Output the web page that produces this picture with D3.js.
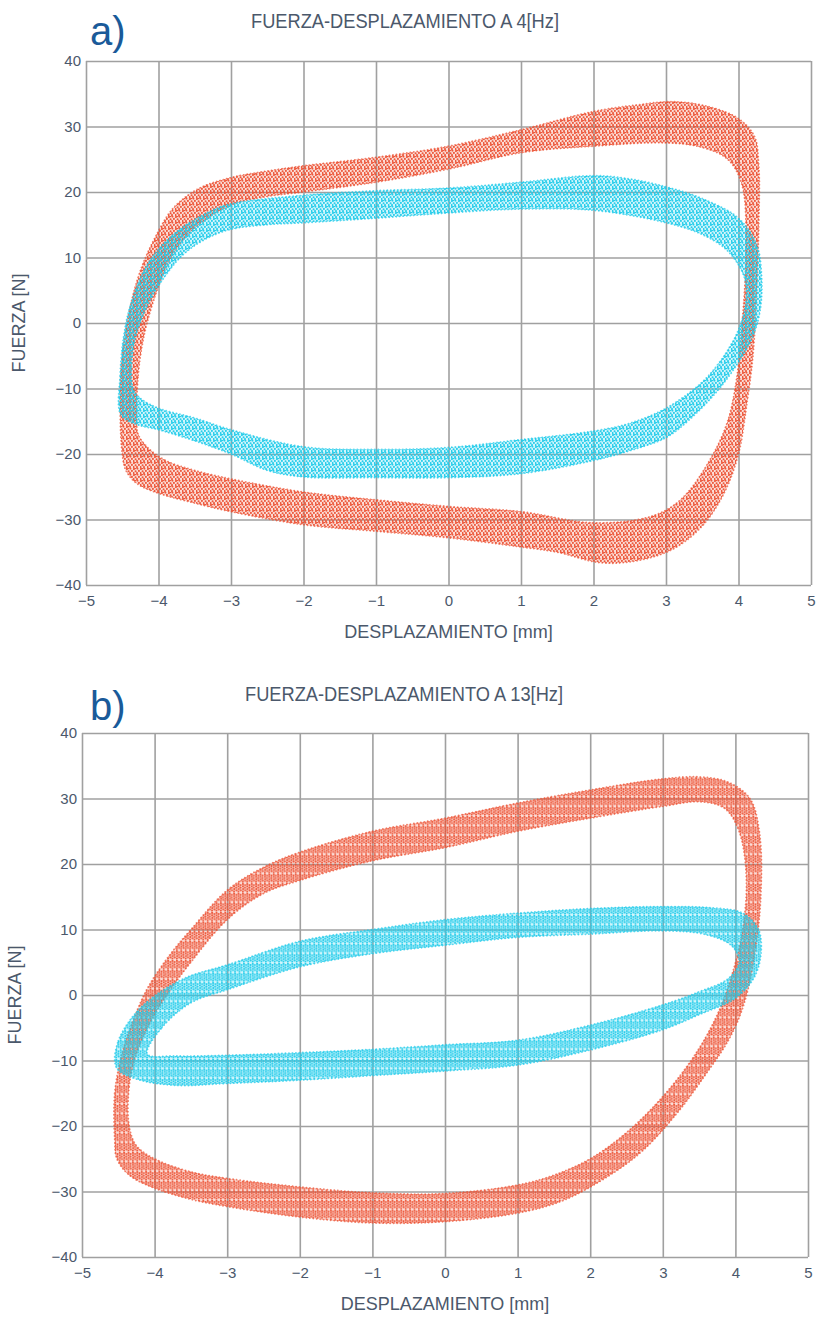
<!DOCTYPE html>
<html>
<head>
<meta charset="utf-8">
<script src="https://cdn.jsdelivr.net/npm/d3@7"></script>
<style>
  html, body { margin: 0; padding: 0; background: #ffffff; }
  svg { display: block; font-family: "Liberation Sans", Arial, sans-serif; }
</style>
</head>
<body>
<svg id="chart" width="817" height="1320"></svg>
<script>
// ---- axis ticks and texts ----
const xTicks = [-5, -4, -3, -2, -1, 0, 1, 2, 3, 4, 5];
const yTicks = [-40, -30, -20, -10, 0, 10, 20, 30, 40];
const titles = ["FUERZA-DESPLAZAMIENTO A 4[Hz]", "FUERZA-DESPLAZAMIENTO A 13[Hz]"];
const panelTags = ["a)", "b)"];
const xLabel = "DESPLAZAMIENTO [mm]";
const yLabel = "FUERZA [N]";

// ---- hysteresis bands: outer boundary and inner (hole) boundary, [displacement mm, force N] ----
// 4 Hz, red series
const redOuter4Hz = [
  [-4.50, -20], [-4.53, -12], [-4.50, -5], [-4.40, 2], [-4.25, 8], [-4.05, 13], [-3.80, 17.5],
  [-3.45, 20.5], [-3.0, 22.2], [-2.5, 23.2], [-2.0, 24.0], [-1.0, 25.3], [0.0, 27.0], [1.0, 29.5],
  [2.0, 32.3], [2.6, 33.3], [3.1, 33.8], [3.6, 33.0], [4.0, 31.2], [4.22, 28.5], [4.28, 24],
  [4.28, 15], [4.25, 5], [4.20, -5], [4.12, -12], [4.0, -20], [3.8, -26], [3.5, -31], [3.1, -34.5],
  [2.6, -36.3], [2.1, -36.6], [1.5, -35], [1.0, -34.2], [0.0, -32.8], [-1.0, -31.8], [-2.0, -30.8],
  [-3.0, -28.8], [-3.5, -27.5], [-4.0, -26], [-4.3, -24.5], [-4.45, -22.5]
];
const redInner4Hz = [
  [-4.30, -15], [-4.28, -8], [-4.20, -2], [-4.05, 4], [-3.85, 9.5], [-3.55, 14], [-3.0, 18.0],
  [-2.5, 19.3], [-2.0, 20.0], [-1.0, 21.5], [0.0, 23.5], [1.0, 26.0], [2.0, 27.0], [3.0, 27.5],
  [3.5, 26.8], [3.85, 25], [4.05, 21], [4.10, 10], [4.05, 0], [3.98, -8], [3.85, -15], [3.6, -21],
  [3.2, -27], [2.8, -29.5], [2.0, -30.5], [1.0, -28.8], [0.0, -28.0], [-1.0, -27.0], [-2.0, -25.8],
  [-3.0, -23.8], [-3.5, -22.5], [-3.9, -21.0], [-4.15, -19], [-4.28, -17]
];
// 4 Hz, cyan series
const cyanOuter4Hz = [
  [-4.52, -14], [-4.53, -8], [-4.48, -2], [-4.38, 3], [-4.15, 9], [-3.8, 13.5], [-3.3, 17],
  [-3.0, 18.2], [-2.0, 19.5], [-1.0, 20.2], [0.0, 20.6], [1.0, 21.5], [2.0, 22.5], [2.5, 22],
  [3.0, 20.8], [3.5, 19], [4.0, 16], [4.25, 12], [4.32, 7], [4.30, 2], [4.20, -2], [4.0, -6],
  [3.7, -10.5], [3.3, -15], [3.0, -17.5], [2.5, -19.5], [2.0, -21], [1.0, -23], [0.0, -23.6],
  [-1.0, -23.6], [-2.0, -23.5], [-2.5, -22.5], [-3.0, -20], [-3.5, -18], [-4.0, -16.3], [-4.3, -15.5]
];
const cyanInner4Hz = [
  [-4.35, -10], [-4.35, -4], [-4.22, 1], [-3.95, 6.5], [-3.6, 11], [-3.1, 14], [-2.5, 15],
  [-2.0, 15.3], [-1.0, 16.0], [0.0, 16.8], [1.0, 17.4], [2.0, 17.2], [3.0, 15.3], [3.5, 13.5],
  [3.85, 11], [4.08, 7], [4.10, 3], [4.0, -1], [3.8, -5], [3.5, -9], [3.0, -13], [2.5, -15.3],
  [2.0, -16.5], [1.0, -17.8], [0.0, -19.0], [-1.0, -19.3], [-2.0, -18.9],
  [-3.0, -16.3], [-3.5, -14.5], [-4.0, -13], [-4.25, -11.5]
];
// 13 Hz, red series
const redOuter13Hz = [
  [-4.55, -22], [-4.55, -15], [-4.45, -9], [-4.3, -4], [-4.1, 1], [-3.8, 6], [-3.5, 10],
  [-3.0, 16], [-2.5, 19.5], [-2.0, 21.8], [-1.0, 25], [0.0, 27], [1.0, 29.3], [2.0, 31.3],
  [3.0, 33], [3.5, 33.3], [3.9, 32.5], [4.2, 30], [4.33, 25], [4.35, 15], [4.25, 5], [4.1, -2],
  [3.9, -7], [3.6, -12], [3.2, -18], [2.7, -24], [2.2, -28], [1.6, -31.5], [1.0, -33.3],
  [0.0, -34.6], [-1.0, -34.8], [-2.0, -33.9], [-3.0, -32.3], [-3.5, -31.2], [-4.0, -29.5],
  [-4.35, -27.5], [-4.52, -25]
];
const redInner13Hz = [
  [-4.35, -20], [-4.35, -14], [-4.25, -9], [-4.05, -4], [-3.8, 0.5], [-3.5, 5], [-3.0, 11.5],
  [-2.5, 15.5], [-2.0, 17.5], [-1.0, 20.5], [0.0, 22.5], [1.0, 25], [2.0, 27], [3.0, 28.8],
  [3.5, 29.5], [3.85, 28.5], [4.05, 25], [4.15, 18], [4.1, 10], [3.95, 3], [3.75, -3],
  [3.45, -9], [3.0, -15.5], [2.5, -21], [2.0, -25], [1.5, -27.5], [1.0, -29], [0.0, -30.3],
  [-1.0, -30.2], [-2.0, -29.3], [-3.0, -28.0], [-3.5, -27], [-4.0, -25], [-4.25, -23]
];
// 13 Hz, cyan series
const cyanOuter13Hz = [
  [-4.55, -10], [-4.5, -7], [-4.35, -4], [-4.1, -1], [-3.6, 2.5], [-3.0, 4.6], [-2.0, 8.2],
  [-1.0, 10.0], [0.0, 11.5], [1.0, 12.5], [2.0, 13.2], [3.0, 13.5], [3.7, 13.3], [4.1, 12.5],
  [4.32, 10], [4.35, 6], [4.25, 2.5], [4.0, -0.5], [3.5, -3], [3.0, -5.3], [2.0, -8.4],
  [1.0, -10.7], [0.0, -11.6], [-1.0, -12.3], [-2.0, -13.0], [-3.0, -13.5], [-3.7, -13.8],
  [-4.2, -13], [-4.5, -11.5]
];
const cyanInner13Hz = [
  [-4.1, -9.0], [-3.9, -5], [-3.5, -1.2], [-3.0, 0.8], [-2.0, 4.3], [-1.0, 6.3], [0.0, 7.6],
  [1.0, 8.8], [2.0, 9.3], [3.0, 9.8], [3.6, 9.2], [3.95, 7.5], [4.05, 5], [3.9, 2.5],
  [3.5, 0.5], [3.0, -1.5], [2.0, -4.6], [1.0, -6.9], [0.0, -7.6], [-1.0, -8.3], [-2.0, -8.8],
  [-3.0, -9.2], [-3.7, -9.3]
];

// ---- styling ----
const RED = "#ec5234";
const CYAN = "#1fcbea";
const GRID = "#a0a0a0";
const TEXT = "#4b586b";
const TAG = "#1a5a99";

const svg = d3.select("#chart");

// dot textures used to fill the bands: a scattered one (4 Hz) and a column-streaked one (13 Hz)
const defs = svg.append("defs");
const scatterSpots = [[1.0, 1.0], [4.4, 0.6], [2.6, 3.2], [5.9, 2.9], [0.6, 5.0], [4.0, 5.1], [2.2, 0.3]];
const streakSpots = [[0.9, 0.9], [0.9, 3.3], [1.1, 5.8], [0.8, 8.2], [3.1, 2.0], [3.0, 4.5], [3.2, 7.1]];
function dotPattern(id, color, spots, w, h, dx, dy, r) {
  const p = defs.append("pattern")
    .attr("id", id)
    .attr("patternUnits", "userSpaceOnUse")
    .attr("width", w).attr("height", h)
    .attr("patternTransform", `translate(${dx},${dy})`);
  p.selectAll("circle").data(spots).join("circle")
    .attr("cx", d => d[0]).attr("cy", d => d[1]).attr("r", r)
    .attr("fill", color);
}
dotPattern("scatter-red", RED, scatterSpots, 7, 6, 0, 0, 1.05);
dotPattern("scatter-cyan", CYAN, scatterSpots, 7, 6, 3, 2, 1.05);
dotPattern("streak-red", RED, streakSpots, 4.4, 9.6, 0, 0, 1.05);
dotPattern("streak-cyan", CYAN, streakSpots, 4.4, 9.6, 1, 3, 1.05);

const panels = [
  {
    title: titles[0], tag: panelTags[0],
    box: { left: 86, right: 811, top: 61, bottom: 585 },
    titleX: 251, titleY: 28, titleW: 308, tagX: 90, tagY: 45, yLabelX: 19,
    bands: [
      { outer: redOuter4Hz, inner: redInner4Hz, color: RED, pattern: "scatter-red" },
      { outer: cyanOuter4Hz, inner: cyanInner4Hz, color: CYAN, pattern: "scatter-cyan" }
    ]
  },
  {
    title: titles[1], tag: panelTags[1],
    box: { left: 82, right: 808, top: 733, bottom: 1257 },
    titleX: 245, titleY: 701, titleW: 318, tagX: 90, tagY: 720, yLabelX: 15,
    bands: [
      { outer: redOuter13Hz, inner: redInner13Hz, color: RED, pattern: "streak-red" },
      { outer: cyanOuter13Hz, inner: cyanInner13Hz, color: CYAN, pattern: "streak-cyan" }
    ]
  }
];

panels.forEach(pn => {
  const b = pn.box;
  const x = d3.scaleLinear().domain([-5, 5]).range([b.left, b.right]);
  const y = d3.scaleLinear().domain([-40, 40]).range([b.bottom, b.top]);
  const g = svg.append("g");

  // grid + tick labels
  const xAxis = g.append("g")
    .attr("transform", `translate(0,${b.bottom})`)
    .call(d3.axisBottom(x).tickValues(xTicks).tickSize(-(b.bottom - b.top)).tickPadding(10));
  const yAxis = g.append("g")
    .attr("transform", `translate(${b.left},0)`)
    .call(d3.axisLeft(y).tickValues(yTicks).tickSize(-(b.right - b.left)).tickPadding(5));
  [xAxis, yAxis].forEach(ax => {
    ax.select(".domain").remove();
    ax.selectAll(".tick line").attr("stroke", GRID).attr("stroke-width", 1.6);
    ax.selectAll(".tick text")
      .attr("fill", TEXT)
      .attr("font-size", 15)
      .attr("font-family", "'Liberation Sans', Arial, sans-serif");
  });

  // hysteresis bands
  const loop = d3.line()
    .x(d => x(d[0])).y(d => y(d[1]))
    .curve(d3.curveCatmullRomClosed.alpha(0.5));
  pn.bands.forEach(bd => {
    const d = loop(bd.outer) + loop(bd.inner);
    g.append("path")
      .attr("d", d)
      .attr("fill-rule", "evenodd")
      .attr("fill", bd.color)
      .attr("fill-opacity", 0.2);
    g.append("path")
      .attr("d", d)
      .attr("fill-rule", "evenodd")
      .attr("fill", `url(#${bd.pattern})`)
      .attr("opacity", 0.95);
    [bd.outer, bd.inner].forEach(edge => {
      g.append("path")
        .attr("d", loop(edge))
        .attr("fill", "none")
        .attr("stroke", bd.color)
        .attr("stroke-width", 1.8)
        .attr("stroke-linecap", "round")
        .attr("stroke-dasharray", "0.1 3.4")
        .attr("opacity", 0.7);
    });
  });

  // titles and labels
  g.append("text")
    .attr("x", pn.titleX).attr("y", pn.titleY)
    .attr("textLength", pn.titleW).attr("lengthAdjust", "spacingAndGlyphs")
    .attr("font-size", 20).attr("fill", TEXT)
    .text(pn.title);
  g.append("text")
    .attr("x", pn.tagX).attr("y", pn.tagY)
    .attr("font-size", 40).attr("fill", TAG)
    .text(pn.tag);
  g.append("text")
    .attr("x", (b.left + b.right) / 2).attr("y", b.bottom + 53)
    .attr("text-anchor", "middle")
    .attr("font-size", 18).attr("fill", TEXT)
    .text(xLabel);
  g.append("text")
    .attr("transform", `translate(${pn.yLabelX},${(b.top + b.bottom) / 2}) rotate(-90)`)
    .attr("text-anchor", "middle")
    .attr("dy", "0.35em")
    .attr("font-size", 18).attr("fill", TEXT)
    .text(yLabel);
});
</script>
</body>
</html>
